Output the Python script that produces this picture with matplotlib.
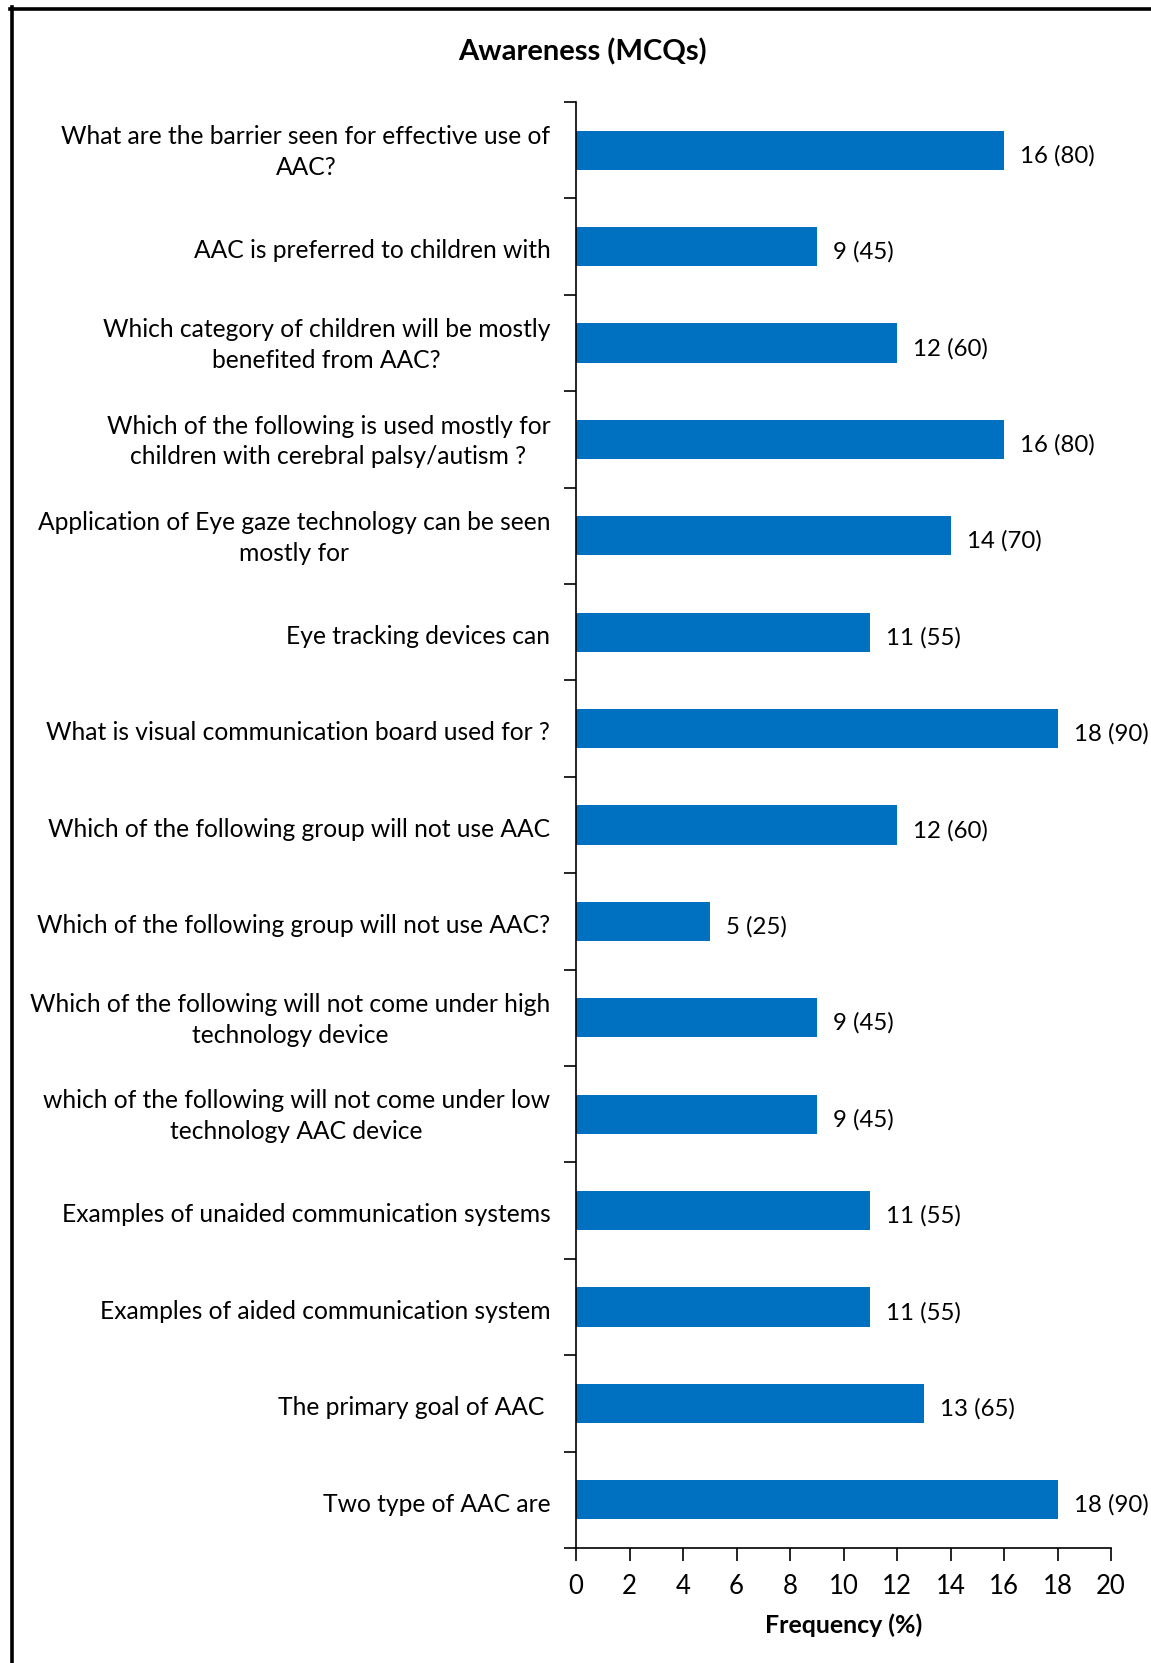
import matplotlib
matplotlib.use("Agg")
import matplotlib.pyplot as plt
from matplotlib.lines import Line2D
from matplotlib.ticker import FixedLocator, NullFormatter
from matplotlib.transforms import ScaledTranslation, blended_transform_factory

plt.rcParams['font.family'] = ['Lato', 'DejaVu Sans']

questions = [
    "What are the barrier seen for effective use of\nAAC?",
    "AAC is preferred to children with",
    "Which category of children will be mostly\nbenefited from AAC?",
    "Which of the following is used mostly for\nchildren with cerebral palsy/autism ?",
    "Application of Eye gaze technology can be seen\nmostly for",
    "Eye tracking devices can",
    "What is visual communication board used for ?",
    "Which of the following group will not use AAC",
    "Which of the following group will not use AAC?",
    "Which of the following will not come under high\ntechnology device",
    "which of the following will not come under low\ntechnology AAC device",
    "Examples of unaided communication systems",
    "Examples of aided communication system",
    "The primary goal of AAC ",
    "Two type of AAC are",
]
frequency = [16, 9, 12, 16, 14, 11, 18, 12, 5, 9, 9, 11, 11, 13, 18]
percent = [80, 45, 60, 80, 70, 55, 90, 60, 25, 45, 45, 55, 55, 65, 90]
x_ticks = [0, 2, 4, 6, 8, 10, 12, 14, 16, 18, 20]

W, H = 1151, 1663
fig = plt.figure(figsize=(W / 100, H / 100), dpi=100)
ax = fig.add_axes([576 / W, 1 - 1548 / H, (1111 - 576) / W, (1548 - 102) / H])

# offsets for text, in inches
def shift(dx, dy):
    return ScaledTranslation(dx, dy, fig.dpi_scale_trans)

pos = list(range(len(questions)))
ax.barh(pos, frequency, height=0.405, color="#0070C0", edgecolor="none")
for y, v, p in zip(pos, frequency, percent):
    ax.text(v + 0.6, y, f"{v} ({p})", va="center", ha="left", fontsize=17.3,
            transform=ax.transData + shift(0, -0.055))

ax.set_ylim(len(questions) - 0.5, -0.5)
ax.set_xlim(0, 20)

# category labels to the left of the axis
label_tf = blended_transform_factory(ax.transAxes, ax.transData)
for y, q in zip(pos, questions):
    dy = -0.021 if "\n" in q else -0.042
    ax.text(0, y, q, ha="right", va="center", fontsize=17.7, multialignment="center",
            linespacing=1.42, transform=label_tf + shift(-0.257, dy))

ax.set_yticks([])
ax.yaxis.set_minor_locator(FixedLocator([i - 0.5 for i in range(len(questions) + 1)]))
ax.yaxis.set_minor_formatter(NullFormatter())
ax.tick_params(axis="y", which="minor", length=9, width=1.2, direction="out")

ax.set_xticks(x_ticks)
ax.set_xticklabels([str(t) for t in x_ticks], fontsize=18.5)
ax.tick_params(axis="x", length=9, width=1.2, direction="out", pad=10)
ax.set_xlabel("Frequency (%)", fontsize=17.9, fontweight="bold", labelpad=10)

for s in ("top", "right"):
    ax.spines[s].set_visible(False)
for s in ("left", "bottom"):
    ax.spines[s].set_linewidth(1.2)

fig.text(582 / W, 1 - 52 / H, "Awareness (MCQs)", ha="center", va="center",
         fontsize=21, fontweight="bold")

# frame edges along the top and left of the figure
fig.add_artist(Line2D([10 / W, 1], [1 - 8.5 / H, 1 - 8.5 / H], color="black", lw=2.6,
                      transform=fig.transFigure))
fig.add_artist(Line2D([11.5 / W, 11.5 / W], [0, 1 - 7 / H], color="black", lw=2.6,
                      transform=fig.transFigure))

fig.savefig("out.png", dpi=100)
